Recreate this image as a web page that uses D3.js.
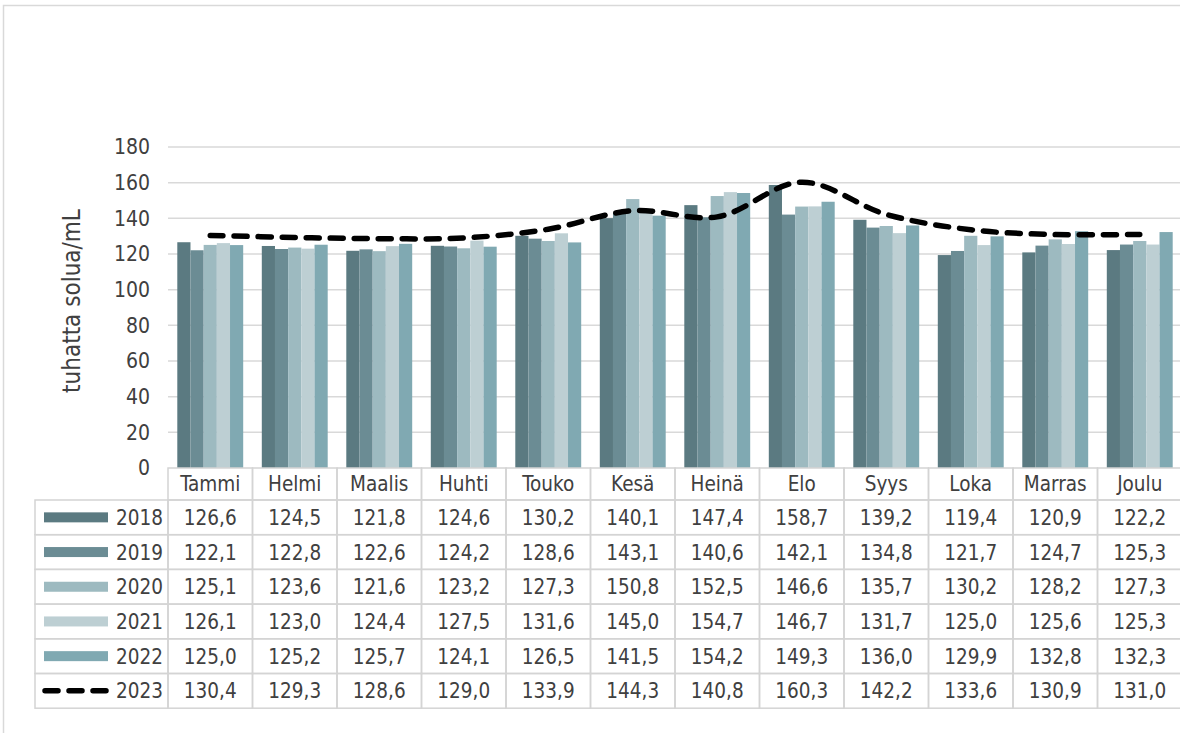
<!DOCTYPE html>
<html>
<head>
    <script src="https://d3js.org/d3.v7.min.js"></script>
    <style>
        body { margin: 0; background: #fff; }
        text { font-family: "DejaVu Sans Condensed", "DejaVu Sans", sans-serif; fill: #404040; }
    </style>
</head>
<body>
    <div id="svg"></div>
    <script>
        var months = ["Tammi", "Helmi", "Maalis", "Huhti", "Touko", "Kesä", "Heinä", "Elo", "Syys", "Loka", "Marras", "Joulu"];
        var barYears = ["2018", "2019", "2020", "2021", "2022"];
        var lineYear = "2023";
        var yTicks = [0, 20, 40, 60, 80, 100, 120, 140, 160, 180];

        var v2018 = [126.6, 124.5, 121.8, 124.6, 130.2, 140.1, 147.4, 158.7, 139.2, 119.4, 120.9, 122.2];
        var v2019 = [122.1, 122.8, 122.6, 124.2, 128.6, 143.1, 140.6, 142.1, 134.8, 121.7, 124.7, 125.3];
        var v2020 = [125.1, 123.6, 121.6, 123.2, 127.3, 150.8, 152.5, 146.6, 135.7, 130.2, 128.2, 127.3];
        var v2021 = [126.1, 123.0, 124.4, 127.5, 131.6, 145.0, 154.7, 146.7, 131.7, 125.0, 125.6, 125.3];
        var v2022 = [125.0, 125.2, 125.7, 124.1, 126.5, 141.5, 154.2, 149.3, 136.0, 129.9, 132.8, 132.3];
        var v2023 = [130.4, 129.3, 128.6, 129.0, 133.9, 144.3, 140.8, 160.3, 142.2, 133.6, 130.9, 131.0];

        var colors = ["#5b7a81", "#6b8c94", "#9dbac0", "#bdcfd3", "#80a9b2"];

        var barValues = [v2018, v2019, v2020, v2021, v2022];
        var allRows = barValues.concat([v2023]);
        var allYears = barYears.concat([lineYear]);

        var width = 1180, height = 733;
        var plotLeft = 168, plotRight = 1182, plotTop = 147, plotBottom = 468;
        var tableLeft = 35, headH = 32, rowH = 34.7;

        var svg = d3.select("#svg").append("svg")
            .attr("width", width).attr("height", height);

        // outer frame
        svg.append("path")
            .attr("d", "M3.5,733 V5.5 H1180")
            .style("fill", "none").style("stroke", "#d9d9d9").style("stroke-width", 1.5);

        var x = d3.scaleBand().domain(months).range([plotLeft, plotRight]).paddingInner(0).paddingOuter(0);
        var xi = d3.scaleBand().domain(barYears).range([9.3, x.bandwidth() - 9.3]);
        var y = d3.scaleLinear().domain([0, 180]).range([plotBottom, plotTop]);

        // gridlines
        svg.append("g").selectAll("line")
            .data(yTicks.slice(1)).enter().append("line")
            .attr("x1", plotLeft).attr("x2", plotRight)
            .attr("y1", function (d) { return y(d); }).attr("y2", function (d) { return y(d); })
            .style("stroke", "#d9d9d9").style("stroke-width", 1.5);

        // y axis labels
        var yAxis = d3.axisLeft(y).tickValues(yTicks).tickSize(0).tickPadding(18);
        var ga = svg.append("g").attr("transform", "translate(" + plotLeft + ",0)").call(yAxis);
        ga.select(".domain").remove();
        ga.selectAll("text").style("font-size", "21px").style("font-family", null).attr("fill", null);

        svg.append("text")
            .attr("transform", "translate(80," + 301 + ") rotate(-90)")
            .style("text-anchor", "middle").style("font-size", "24px")
            .text("tuhatta solua/mL");

        // bars
        barYears.forEach(function (yr, k) {
            svg.append("g").selectAll("rect")
                .data(barValues[k]).enter().append("rect")
                .attr("x", function (d, i) { return x(months[i]) + xi(yr); })
                .attr("width", xi.bandwidth())
                .attr("y", function (d) { return y(d); })
                .attr("height", function (d) { return y(0) - y(d); })
                .style("fill", colors[k]);
        });

        // 2023 line
        var line = d3.line()
            .x(function (d, i) { return x(months[i]) + x.bandwidth() / 2; })
            .y(function (d) { return y(d); })
            .curve(d3.curveCatmullRom.alpha(0.5));
        svg.append("path")
            .datum(v2023)
            .attr("d", line)
            .style("fill", "none").style("stroke", "#000")
            .style("stroke-width", 5.5).style("stroke-dasharray", "13,11")
            .style("stroke-linecap", "round");

        // data table
        var tbl = svg.append("g");
        var gridStyle = function (s) {
            s.style("fill", "none").style("stroke", "#d4d4d4").style("stroke-width", 1.5);
        };
        // header cells
        tbl.selectAll(".hcell").data(months).enter().append("rect")
            .attr("x", function (d) { return x(d); }).attr("y", plotBottom)
            .attr("width", x.bandwidth()).attr("height", headH).call(gridStyle);
        tbl.selectAll(".htext").data(months).enter().append("text")
            .attr("x", function (d) { return x(d) + x.bandwidth() / 2; })
            .attr("y", plotBottom + headH / 2 + 7)
            .style("text-anchor", "middle").style("font-size", "20.5px")
            .text(function (d) { return d; });

        var fmt = function (v) { return v.toFixed(1).replace(".", ","); };

        allRows.forEach(function (vals, r) {
            var ry = plotBottom + headH + r * rowH;
            tbl.append("rect").attr("x", tableLeft).attr("y", ry)
                .attr("width", plotLeft - tableLeft).attr("height", rowH).call(gridStyle);
            tbl.append("g").selectAll("rect").data(months).enter().append("rect")
                .attr("x", function (d) { return x(d); }).attr("y", ry)
                .attr("width", x.bandwidth()).attr("height", rowH).call(gridStyle);
            tbl.append("g").selectAll("text").data(vals).enter().append("text")
                .attr("x", function (d, i) { return x(months[i]) + x.bandwidth() / 2; })
                .attr("y", ry + rowH / 2 + 7.5)
                .style("text-anchor", "middle").style("font-size", "20.5px")
                .text(fmt);
            // legend key
            if (r < barYears.length) {
                tbl.append("rect").attr("x", 44).attr("y", ry + rowH / 2 - 5)
                    .attr("width", 64).attr("height", 10).style("fill", colors[r]);
            } else {
                tbl.append("line").attr("x1", 45).attr("x2", 106)
                    .attr("y1", ry + rowH / 2).attr("y2", ry + rowH / 2)
                    .style("stroke", "#000").style("stroke-width", 5.5)
                    .style("stroke-dasharray", "13,11").style("stroke-linecap", "round");
            }
            tbl.append("text").attr("x", 163).attr("y", ry + rowH / 2 + 7.5)
                .style("text-anchor", "end").style("font-size", "20.5px")
                .text(allYears[r]);
        });
    </script>
</body>
</html>
